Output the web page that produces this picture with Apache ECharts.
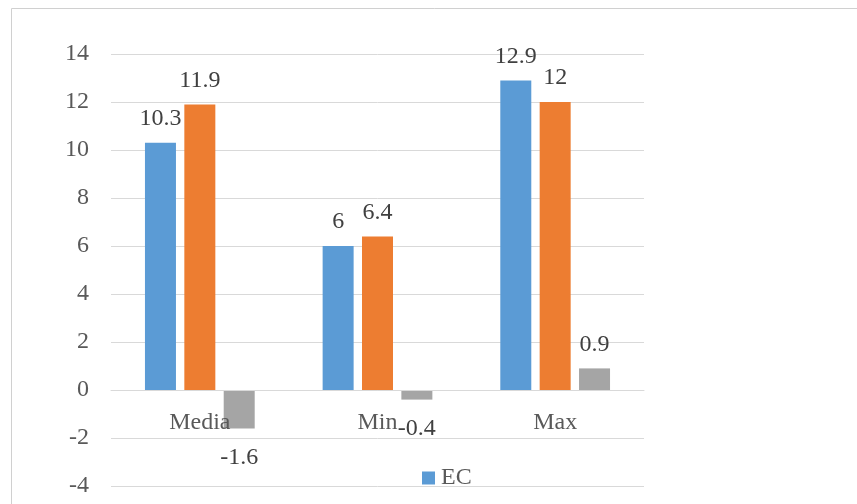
<!DOCTYPE html>
<html>
<head>
<meta charset="utf-8">
<script src="https://cdn.jsdelivr.net/npm/echarts@6/dist/echarts.min.js"></script>
<style>
  html, body { margin: 0; padding: 0; background: #fff; }
  #chart { width: 857px; height: 504px; }
</style>
</head>
<body>
<div id="chart"></div>
<script>
// Categories and series values
var categories = ['Media', 'Min', 'Max'];
var ecValues = [10.3, 6, 12.9];
var secondValues = [11.9, 6.4, 12];
var diffValues = [-1.6, -0.4, 0.9];
var yTicks = { min: -4, max: 14, step: 2 };

var FONT = '"Liberation Serif", "Times New Roman", serif';

// Labels sit above positive bars and below negative ones
function withLabels(values) {
  return values.map(function (v) {
    return {
      value: v,
      label: v < 0
        ? { position: 'bottom', distance: 17 }
        : { position: 'top', distance: 12 }
    };
  });
}

var labelStyle = {
  show: true,
  fontFamily: FONT,
  fontSize: 24,
  color: '#404040'
};

function barSeries(name, values, color) {
  return {
    name: name,
    type: 'bar',
    data: withLabels(values),
    barWidth: 31,
    barGap: '27%',
    itemStyle: { color: color },
    label: labelStyle
  };
}

var chart = echarts.init(document.getElementById('chart'), null, { renderer: 'canvas' });
chart.setOption({
  animation: false,
  backgroundColor: '#ffffff',
  graphic: [{
    type: 'rect',
    shape: { x: 11.5, y: 8.5, width: 1000, height: 1000 },
    style: { fill: 'none', stroke: '#d0d0d0', lineWidth: 1 },
    silent: true,
    z: -1
  }],
  grid: {
    left: 111, right: 213, top: 54, bottom: 18,
    containLabel: false,
    outerBoundsMode: 'none'
  },
  legend: {
    data: ['EC'],
    left: 422,
    top: 466,
    padding: 0,
    itemWidth: 13,
    itemHeight: 13,
    itemGap: 10,
    icon: 'rect',
    textStyle: { fontFamily: FONT, fontSize: 24, color: '#595959', padding: [0, 0, 0, 1] }
  },
  xAxis: {
    type: 'category',
    data: categories,
    z: 3,
    axisLine: { show: true, onZero: false, lineStyle: { color: '#d9d9d9', width: 1 } },
    axisTick: { show: false },
    axisLabel: { fontFamily: FONT, fontSize: 24, color: '#595959', margin: 21 },
    splitLine: { show: false }
  },
  yAxis: {
    type: 'value',
    min: yTicks.min,
    max: yTicks.max,
    interval: yTicks.step,
    axisLine: { show: false },
    axisTick: { show: false },
    axisLabel: { fontFamily: FONT, fontSize: 24, color: '#595959', margin: 22 },
    splitLine: { lineStyle: { color: '#d9d9d9', width: 1 } }
  },
  series: [
    barSeries('EC', ecValues, '#5B9BD5'),
    barSeries('', secondValues, '#ED7D31'),
    barSeries(' ', diffValues, '#A5A5A5')
  ]
});

// Move the category axis (line and labels) up to the value-axis zero line
var zeroY = chart.convertToPixel({ yAxisIndex: 0 }, 0);
var floorY = chart.convertToPixel({ yAxisIndex: 0 }, yTicks.min);
chart.setOption({ xAxis: { offset: -(floorY - zeroY) } });
</script>
</body>
</html>
